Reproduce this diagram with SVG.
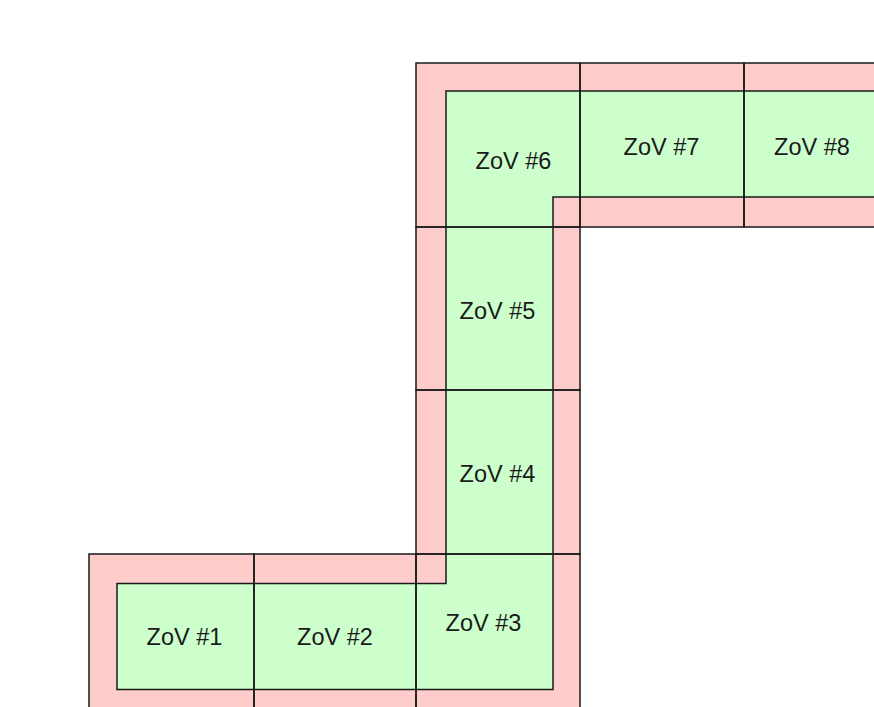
<svg xmlns="http://www.w3.org/2000/svg" width="874" height="707" viewBox="0 0 874 707">
<style>
.cell{fill:#ffcccc;stroke:none}
.grid{fill:none;stroke:#1a1a1a;stroke-width:1.5}
.zone{fill:#ccffcc;stroke:#1a1a1a;stroke-width:1.5}
.lbl{font-family:"Liberation Sans",Arial,sans-serif;font-size:23.5px;fill:#1a1a1a;text-anchor:middle}
</style>
<rect width="874" height="707" fill="#ffffff"/>
<g id="background">
<rect class="cell" x="89" y="554" width="165" height="160"/>
<rect class="cell" x="254" y="554" width="162" height="160"/>
<rect class="cell" x="416" y="554" width="164" height="160"/>
<rect class="cell" x="416" y="390" width="164" height="164"/>
<rect class="cell" x="416" y="227" width="164" height="163"/>
<rect class="cell" x="416" y="63" width="164" height="164"/>
<rect class="cell" x="580" y="63" width="164" height="164"/>
<rect class="cell" x="744" y="63" width="140" height="164"/>
</g>
<g id="zone-path">
<path class="zone" d="M117,583.5 H446 V91 H884 V197 H553 V689.5 H117 Z"/>
</g>
<g id="connectors"></g>
<g id="zov1"><rect class="grid" x="89" y="554" width="165" height="160"/><text class="lbl" x="184.5" y="644.5">ZoV #1</text></g>
<g id="zov2"><rect class="grid" x="254" y="554" width="162" height="160"/><text class="lbl" x="335" y="645">ZoV #2</text></g>
<g id="zov3"><rect class="grid" x="416" y="554" width="164" height="160"/><text class="lbl" x="483.5" y="631">ZoV #3</text></g>
<g id="zov4"><rect class="grid" x="416" y="390" width="164" height="164"/><text class="lbl" x="497.5" y="482">ZoV #4</text></g>
<g id="zov5"><rect class="grid" x="416" y="227" width="164" height="163"/><text class="lbl" x="497.5" y="318.5">ZoV #5</text></g>
<g id="zov6"><rect class="grid" x="416" y="63" width="164" height="164"/><text class="lbl" x="513.5" y="168.5">ZoV #6</text></g>
<g id="zov7"><rect class="grid" x="580" y="63" width="164" height="164"/><text class="lbl" x="661.5" y="154.5">ZoV #7</text></g>
<g id="zov8"><rect class="grid" x="744" y="63" width="140" height="164"/><text class="lbl" x="812" y="154.5">ZoV #8</text></g>
</svg>
